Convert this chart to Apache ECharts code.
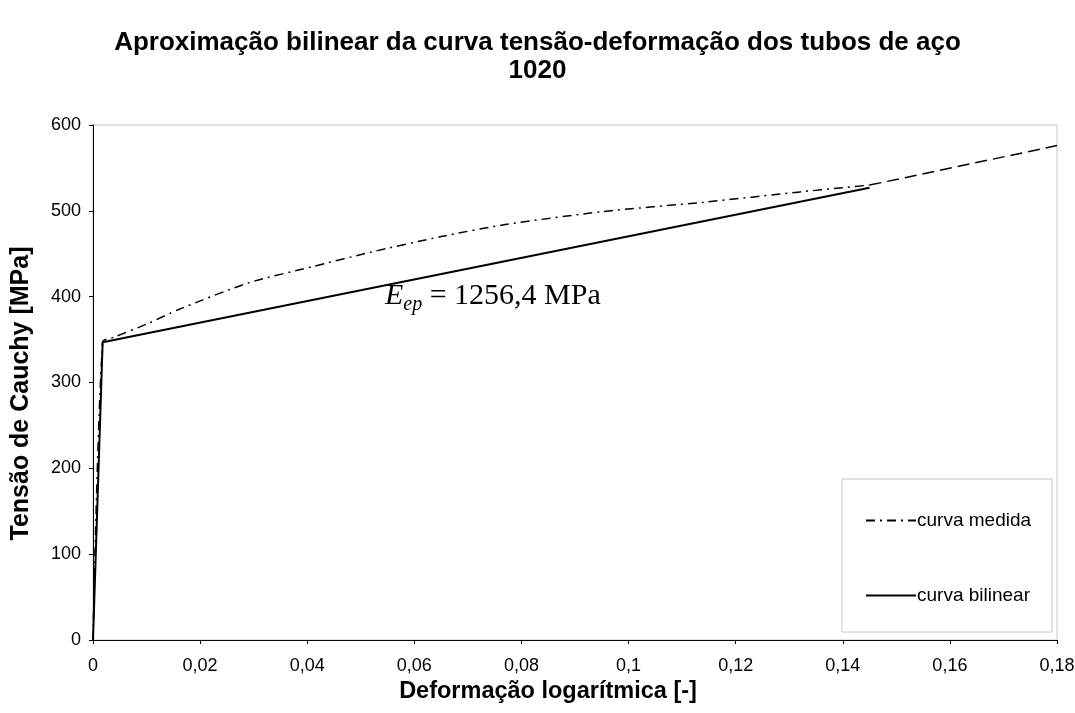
<!DOCTYPE html>
<html>
<head>
<meta charset="utf-8">
<script src="https://cdn.jsdelivr.net/npm/echarts@6/dist/echarts.min.js"></script>
<style>html,body{margin:0;padding:0;background:#fff}#c{width:1075px;height:713px}</style>
</head>
<body>
<div id="c"></div>
<script>
var medidaX = [0, 0.0018, 0.004, 0.010, 0.016, 0.029, 0.041, 0.052, 0.065, 0.077, 0.095, 0.114, 0.132, 0.140, 0.145];
var medidaY = [0, 347, 353, 368, 385, 416, 435, 452, 470, 484, 499, 510, 522, 527, 530];
// Dashed continuation of the measured curve
var extX = [0.145, 0.180];
var extY = [530, 576];
// Bilinear approximation
var bilX = [0, 0.0018, 0.145];
var bilY = [0, 347, 527];
var xTicks = { min: 0, max: 0.18, interval: 0.02 };
var yTicks = { min: 0, max: 600, interval: 100 };

function zip(a, b) { return a.map(function (v, i) { return [v, b[i]]; }); }
function fmt(v) { return parseFloat(v.toFixed(4)).toString().replace('.', ','); }

var chart = echarts.init(document.getElementById('c'));
chart.setOption({
  backgroundColor: '#fff',
  animation: false,
  title: {
    text: 'Aproximação bilinear da curva tensão-deformação dos tubos de aço\n1020',
    left: 'center', top: 24,
    textStyle: { fontFamily: 'Liberation Sans', fontWeight: 'bold', fontSize: 26, color: '#000', lineHeight: 28 }
  },
  grid: { left: 93, right: 18, top: 125, bottom: 73, show: true, borderColor: '#c8c8c8', borderWidth: 1,
          containLabel: false, outerBoundsMode: 'none' },
  legend: {
    orient: 'vertical', left: 842, top: 479,
    data: ['curva medida', 'curva bilinear'],
    itemWidth: 50, itemHeight: 14, itemGap: 56,
    padding: [32, 21, 27, 23],
    borderColor: '#c8c8c8', borderWidth: 1,
    itemStyle: { opacity: 0 },
    textStyle: { fontFamily: 'Liberation Sans', fontSize: 19, color: '#000', padding: [0, 0, 0, -4] }
  },
  xAxis: {
    type: 'value', min: xTicks.min, max: xTicks.max, interval: xTicks.interval,
    name: 'Deformação logarítmica [-]', nameLocation: 'middle', nameGap: 40,
    nameTextStyle: { fontFamily: 'Liberation Sans', fontWeight: 'bold', fontSize: 23.5, color: '#000', padding: [0, 54, 0, 0] },
    axisLine: { lineStyle: { color: '#000', width: 1 } },
    axisTick: { show: true, length: 4, lineStyle: { color: '#000' } },
    axisLabel: { formatter: fmt, fontFamily: 'Liberation Sans', fontSize: 18, color: '#000', margin: 17 },
    splitLine: { show: false }
  },
  yAxis: {
    type: 'value', min: yTicks.min, max: yTicks.max, interval: yTicks.interval,
    name: 'Tensão de Cauchy [MPa]', nameLocation: 'middle', nameGap: 59,
    nameTextStyle: { fontFamily: 'Liberation Sans', fontWeight: 'bold', fontSize: 25, color: '#000', padding: [0, 22, 0, 0] },
    axisLine: { show: true, lineStyle: { color: '#000', width: 1 } },
    axisTick: { show: true, length: 4, lineStyle: { color: '#000' } },
    axisLabel: { fontFamily: 'Liberation Sans', fontSize: 18, color: '#000', margin: 12 },
    splitLine: { show: false }
  },
  series: [
    {
      name: 'curva medida', type: 'line', data: zip(medidaX, medidaY),
      smooth: 0.25, symbol: 'none', showSymbol: false,
      itemStyle: { color: '#000' },
      lineStyle: { color: '#000', width: 1.5, type: [9, 5, 2, 5] }
    },
    {
      name: 'extensao', type: 'line', data: zip(extX, extY),
      symbol: 'none', showSymbol: false,
      itemStyle: { color: '#000' },
      lineStyle: { color: '#000', width: 1.5, type: [12, 6] }
    },
    {
      name: 'curva bilinear', type: 'line', data: zip(bilX, bilY),
      symbol: 'none', showSymbol: false,
      itemStyle: { color: '#000' },
      lineStyle: { color: '#000', width: 2, type: 'solid' }
    }
  ],
  graphic: [{
    type: 'text', left: 385, top: 281,
    style: {
      text: '{e|E}{s|ep}{n| = 1256,4 MPa}',
      rich: {
        e: { fontFamily: 'Liberation Serif', fontStyle: 'italic', fontSize: 30, fill: '#000' },
        s: { fontFamily: 'Liberation Serif', fontStyle: 'italic', fontSize: 20, fill: '#000', verticalAlign: 'bottom', padding: [0, 0, -4, 0] },
        n: { fontFamily: 'Liberation Serif', fontSize: 30, fill: '#000' }
      }
    }
  }]
});
</script>
</body>
</html>
